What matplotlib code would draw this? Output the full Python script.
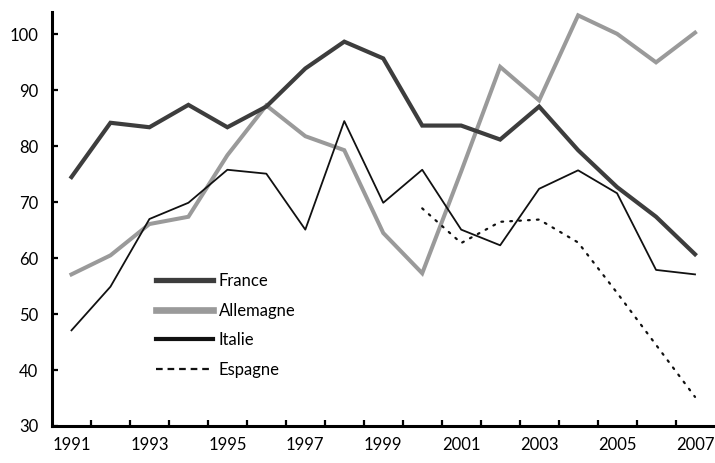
import matplotlib
matplotlib.use("Agg")
import matplotlib.pyplot as plt
from matplotlib.lines import Line2D

# données
years = list(range(1991, 2008))
france = [74.5, 84.2, 83.4, 87.4, 83.4, 87.1, 93.9, 98.7, 95.7, 83.7, 83.7, 81.2, 87.1, 79.3, 72.7, 67.4, 60.7]
allemagne = [57.1, 60.5, 66.1, 67.4, 78.4, 87.3, 81.8, 79.3, 64.5, 57.3, 75.5, 94.2, 88.2, 103.4, 100.1, 95.0, 100.3]
italie = [47.1, 54.9, 67.0, 69.9, 75.8, 75.1, 65.1, 84.5, 69.9, 75.8, 65.1, 62.3, 72.4, 75.7, 71.6, 57.9, 57.1]
espagne_years = list(range(2000, 2008))
espagne = [68.9, 62.7, 66.5, 66.9, 62.8, 53.8, 44.5, 35.2]

xlabels = [str(y) for y in range(1991, 2008, 2)]
yticks = [30, 40, 50, 60, 70, 80, 90, 100]

plt.rcParams['font.family'] = ['Lato', 'DejaVu Sans']

fig = plt.figure(figsize=(7.15, 4.63), dpi=100)
ax = fig.add_axes([52 / 715, 37 / 463, 662.5 / 715, 414 / 463])

c_fr = '#3d3d3d'
c_de = '#9a9a9a'
c_it = '#111111'

ax.plot(years, allemagne, color=c_de, lw=2.9, solid_joinstyle='miter')
ax.plot(years, france, color=c_fr, lw=3.0, solid_joinstyle='miter')
ax.plot(years, italie, color=c_it, lw=1.3)
ax.plot(espagne_years, espagne, color=c_it, lw=1.6, linestyle=(0, (0.8, 3.2)), dash_capstyle='round')

ax.set_xlim(1990.5, 2007.5)
ax.set_ylim(30, 104)

ax.set_xticks([y + 0.5 for y in range(1991, 2007)])
ax.set_xticklabels([])
ax.set_xticks(list(range(1991, 2008, 2)), minor=True)
ax.set_xticklabels(xlabels, minor=True)
ax.tick_params(axis='x', which='major', direction='in', length=4.5, width=1.6)
ax.tick_params(axis='x', which='minor', length=0, pad=8, labelsize=12)

ax.set_yticks(yticks)
ax.tick_params(axis='y', direction='in', length=4.5, width=1.6, pad=10, labelsize=12)

for s in ['top', 'right']:
    ax.spines[s].set_visible(False)
for s in ['left', 'bottom']:
    ax.spines[s].set_linewidth(2.2)

handles = [
    Line2D([], [], color=c_fr, lw=3.8),
    Line2D([], [], color=c_de, lw=4.8),
    Line2D([], [], color=c_it, lw=3.0),
    Line2D([], [], color=c_it, lw=1.6, linestyle=(0, (3, 2.2))),
]
ax.legend(handles, ['France', 'Allemagne', 'Italie', 'Espagne'],
          loc='upper left', bbox_to_anchor=(0.145, 0.39), frameon=False,
          fontsize=12, handlelength=3.4, handletextpad=0.35, labelspacing=0.82,
          borderpad=0)

fig.savefig('out.png', dpi=100)
